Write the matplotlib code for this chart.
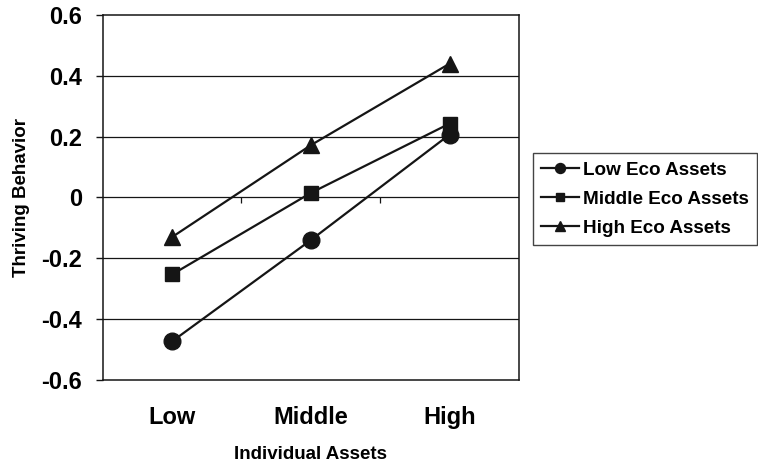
import matplotlib
matplotlib.use('Agg')
import matplotlib.pyplot as plt

plt.rcParams['font.family'] = ['Liberation Sans', 'DejaVu Sans']
plt.rcParams['font.weight'] = 'bold'

categories = ['Low', 'Middle', 'High']
series = ['Low Eco Assets', 'Middle Eco Assets', 'High Eco Assets']
low_eco = [-0.473, -0.140, 0.207]
middle_eco = [-0.253, 0.015, 0.243]
high_eco = [-0.130, 0.172, 0.440]
yticks = [-0.6, -0.4, -0.2, 0, 0.2, 0.4, 0.6]
ytick_labels = ['-0.6', '-0.4', '-0.2', '0', '0.2', '0.4', '0.6']

ink = '#151515'

fig = plt.figure(figsize=(7.58, 4.68), dpi=100)
ax = fig.add_axes([0.1355, 0.188, 0.5492, 0.780])

xs = range(len(categories))
ax.plot(xs, low_eco, color=ink, lw=1.6, marker='o', ms=12, label=series[0])
ax.plot(xs, middle_eco, color=ink, lw=1.6, marker='s', ms=10.5, label=series[1])
ax.plot(xs, high_eco, color=ink, lw=1.6, marker='^', ms=12, label=series[2])

ax.set_xlim(-0.5, 2.5)
ax.set_ylim(-0.6, 0.6)
ax.set_yticks(yticks)
ax.set_yticklabels(ytick_labels, fontsize=17, fontweight='bold')
ax.set_xticks(list(xs))
ax.set_xticklabels(categories, fontsize=17, fontweight='bold')
ax.tick_params(axis='x', length=0, pad=19)
ax.tick_params(axis='y', length=5, width=1, color=ink, pad=10)

for y in yticks[1:-1]:
    ax.axhline(y, color=ink, lw=0.9, zorder=0)
# category separators on the zero line
ax.vlines([0.5, 1.5], -0.017, 0, color=ink, lw=0.9)

for s in ax.spines.values():
    s.set_color(ink)
    s.set_linewidth(1.1)

ax.set_ylabel('Thriving Behavior', fontsize=13.5, fontweight='bold', labelpad=8)
ax.set_xlabel('Individual Assets', fontsize=13.5, fontweight='bold', labelpad=12)

leg = ax.legend(loc='upper left', bbox_to_anchor=(0.703, 0.673),
                bbox_transform=fig.transFigure, frameon=True, fancybox=False,
                fontsize=13.6, markerscale=0.6, handlelength=2.0,
                handletextpad=0.2, borderpad=0.45, labelspacing=0.62,
                borderaxespad=0)
leg.get_frame().set_edgecolor(ink)
leg.get_frame().set_linewidth(1)
for t in leg.get_texts():
    t.set_fontweight('bold')

fig.savefig('out.png', dpi=100)
